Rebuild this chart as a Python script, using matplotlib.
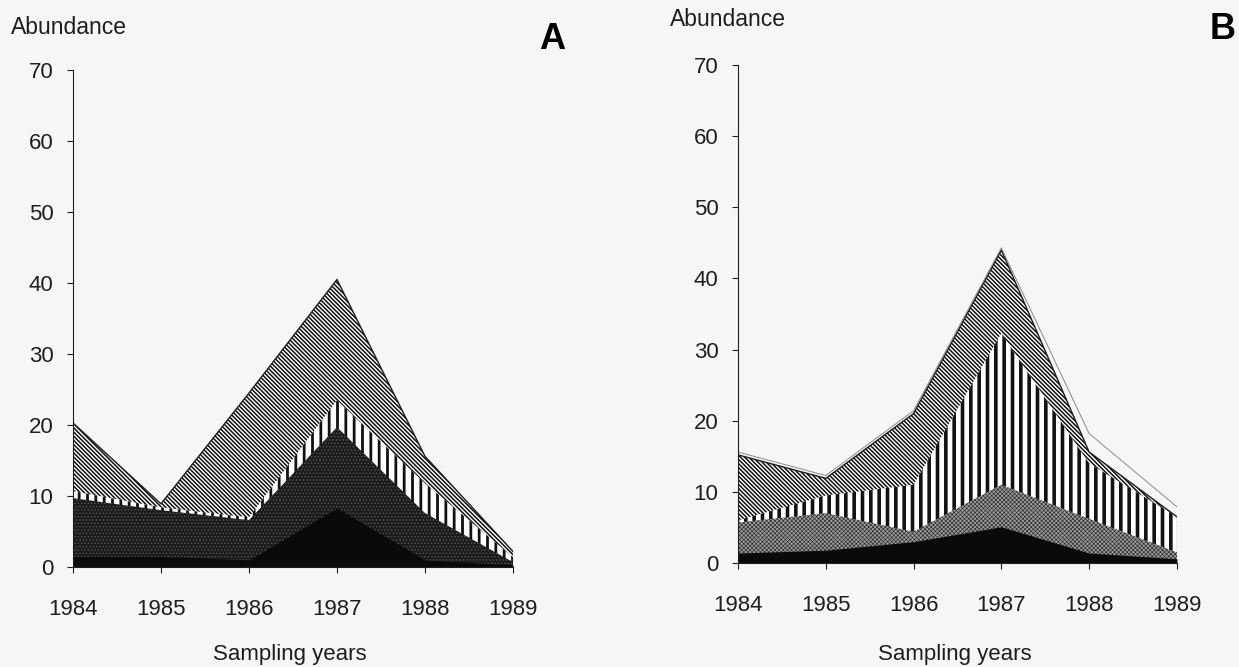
import matplotlib as mpl
import matplotlib.pyplot as plt
import numpy as np

plt.rcParams["font.family"] = ["Liberation Sans", "DejaVu Sans"]

years = [1984, 1985, 1986, 1987, 1988, 1989]
y_ticks = [0, 10, 20, 30, 40, 50, 60, 70]

# panel A, four taxa stacked from the bottom up
a_solid = [1.5, 1.5, 1.0, 8.3, 1.0, 0.3]
a_stipple = [8.2, 6.5, 5.6, 11.4, 6.6, 0.4]
a_vertical = [1.0, 0.4, 0.4, 3.8, 4.2, 0.7]
a_diagonal = [9.6, 0.5, 17.5, 17.0, 3.8, 0.8]

# panel B
b_solid = [1.4, 1.8, 3.0, 5.1, 1.4, 0.6]
b_stipple = [4.3, 5.2, 1.4, 5.9, 4.8, 0.9]
b_vertical = [0.3, 2.5, 6.6, 21.3, 7.8, 5.0]
b_diagonal = [9.2, 2.4, 10.0, 11.7, 1.6, 0.0]
# misregistered outline printed above the top layer in B
b_outline = [15.6, 12.3, 21.4, 44.3, 18.2, 7.9]

BG = "#f6f6f6"
INK = "#1e1e1e"


def layer(ax, x, hi, face, hatch, hcolor, hlw):
    with mpl.rc_context({"hatch.linewidth": hlw}):
        poly = ax.fill_between(x, 0, hi, facecolor=face, edgecolor=hcolor,
                               hatch=hatch, linewidth=0)
    if hasattr(poly, "set_hatch_linewidth"):
        poly.set_hatch_linewidth(hlw)
    return poly


def draw_panel(ax, layers, styles):
    x = np.array(years, dtype=float)
    tops = np.cumsum(np.array(layers), axis=0)
    # paint from the top layer down so each lower band covers the one above
    for top, (face, hatch, hcolor, hlw) in list(zip(tops, styles))[::-1]:
        layer(ax, x, top, face, hatch, hcolor, hlw)
    ax.plot(x, tops[-1], color=INK, lw=1.0)
    ax.plot([x[-1], x[-1]], [0, tops[-1][-1]], color=INK, lw=0.8)

    ax.set_xlim(1984, 1989)
    ax.set_ylim(0, 70)
    ax.set_xticks(years)
    ax.set_yticks(y_ticks)
    ax.set_facecolor(BG)
    for side in ("top", "right"):
        ax.spines[side].set_visible(False)
    for side in ("left", "bottom"):
        ax.spines[side].set_linewidth(0.8)
        ax.spines[side].set_color(INK)
    ax.tick_params(axis="y", direction="out", length=4, width=0.8, pad=10,
                   labelsize=16, colors=INK)
    ax.tick_params(axis="x", direction="out", length=4, width=0.8, pad=19,
                   labelsize=16, colors=INK)


fig = plt.figure(figsize=(12.39, 6.67), dpi=100, facecolor=BG)

ax_a = fig.add_axes([0.0589, 0.1499, 0.3551, 0.7451])
draw_panel(
    ax_a,
    [a_solid, a_stipple, a_vertical, a_diagonal],
    [
        ("#0a0a0a", None, "#0a0a0a", 1.0),
        ("#1c1c1c", ".....", "#555555", 0.6),
        ("white", "||", "#111111", 2.0),
        ("white", "\\" * 8, "#111111", 1.1),
    ],
)

ax_b = fig.add_axes([0.5956, 0.1559, 0.3543, 0.7466])
draw_panel(
    ax_b,
    [b_solid, b_stipple, b_vertical, b_diagonal],
    [
        ("#0a0a0a", None, "#0a0a0a", 1.0),
        ("#9a9a9a", "x" * 8, "#2a2a2a", 0.45),
        ("white", "||", "#111111", 2.6),
        ("white", "\\" * 8, "#111111", 1.1),
    ],
)
ax_b.plot(years, b_outline, color="#8a8a8a", lw=0.7)

fig.text(0.009, 0.949, "Abundance", fontsize=16.5, color=INK, va="baseline")
fig.text(0.541, 0.961, "Abundance", fontsize=16.5, color=INK, va="baseline")
fig.text(0.446, 0.941, "A", fontsize=26, fontweight="bold", color="black",
         va="center", ha="center")
fig.text(0.987, 0.956, "B", fontsize=26, fontweight="bold", color="black",
         va="center", ha="center")
fig.text(0.234, 0.0105, "Sampling years", fontsize=16, color=INK, ha="center",
         va="baseline")
fig.text(0.771, 0.0105, "Sampling years", fontsize=16, color=INK, ha="center",
         va="baseline")

fig.savefig("out.png", dpi=100, facecolor=BG)
